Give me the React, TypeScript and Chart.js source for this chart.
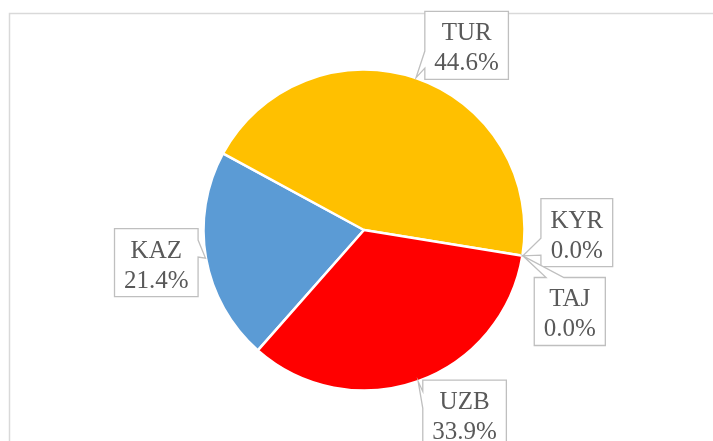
import React, { useEffect, useRef } from "react";
import { Chart, registerables } from "chart.js";

Chart.register(...registerables);

const categories = ["KAZ", "TUR", "KYR", "TAJ", "UZB"];
const shares = [21.4, 44.6, 0.0, 0.0, 33.9];
const sliceColors = ["#5B9BD5", "#FFC000", "#A5A5A5", "#70AD47", "#FF0000"];

// callout placement: polar angle (deg, clockwise from 12 o'clock) and distance in pie radii
const labelAngles = [261.06, 29.07, 90.68, 111.6, 151.35];
const labelDistances = [1.31, 1.316, 1.326, 1.379, 1.307];

const FONT = '25px "Liberation Serif", "Times New Roman", serif';
const LINE_H = 30;

const calloutPlugin = {
  id: "callouts",
  beforeDraw(chart: any) {
    const ctx = chart.ctx;
    ctx.save();
    ctx.strokeStyle = "#D9D9D9";
    ctx.lineWidth = 1.5;
    ctx.beginPath();
    ctx.moveTo(9.5, chart.height + 2);
    ctx.lineTo(9.5, 13.5);
    ctx.lineTo(chart.width + 2, 13.5);
    ctx.stroke();
    ctx.restore();
  },
  afterDraw(chart: any) {
    const ctx = chart.ctx;
    const meta = chart.getDatasetMeta(0);
    ctx.save();
    ctx.font = FONT;
    meta.data.forEach((arc: any, i: number) => {
      const { x, y, startAngle, endAngle, outerRadius } = arc.getProps(
        ["x", "y", "startAngle", "endAngle", "outerRadius"],
        true
      );
      const mid = (startAngle + endAngle) / 2;
      const tipX = x + Math.cos(mid) * (outerRadius + 0.5);
      const tipY = y + Math.sin(mid) * (outerRadius + 0.5);
      const a = ((labelAngles[i] - 90) * Math.PI) / 180;
      const cx = x + Math.cos(a) * outerRadius * labelDistances[i];
      const cy = y + Math.sin(a) * outerRadius * labelDistances[i];
      const lines = [categories[i], shares[i].toFixed(1) + "%"];
      const tw = Math.max(...lines.map((s) => ctx.measureText(s).width));
      const w = tw + 19;
      const h = 68;
      const l = cx - w / 2;
      const t = cy - h / 2;
      const r = l + w;
      const b = t + h;
      const dxPos = tipX - cx;
      const dyPos = tipY - cy;
      const dq = (dxPos * h) / w;
      const dz = Math.abs(dyPos) - Math.abs(dq);
      const xg1 = dxPos > 0 ? 7 : 2;
      const xg2 = dxPos > 0 ? 10 : 5;
      const yg1 = dyPos > 0 ? 7 : 2;
      const yg2 = dyPos > 0 ? 10 : 5;
      const x1 = l + (w * xg1) / 12;
      const x2 = l + (w * xg2) / 12;
      const y1 = t + (h * yg1) / 12;
      const y2 = t + (h * yg2) / 12;
      const side = dz > 0 ? (dyPos < 0 ? "top" : "bottom") : dxPos < 0 ? "left" : "right";

      ctx.beginPath();
      ctx.moveTo(l, t);
      if (side === "top") {
        ctx.lineTo(x1, t);
        ctx.lineTo(tipX, tipY);
        ctx.lineTo(x2, t);
      }
      ctx.lineTo(r, t);
      if (side === "right") {
        ctx.lineTo(r, y1);
        ctx.lineTo(tipX, tipY);
        ctx.lineTo(r, y2);
      }
      ctx.lineTo(r, b);
      if (side === "bottom") {
        ctx.lineTo(x2, b);
        ctx.lineTo(tipX, tipY);
        ctx.lineTo(x1, b);
      }
      ctx.lineTo(l, b);
      if (side === "left") {
        ctx.lineTo(l, y2);
        ctx.lineTo(tipX, tipY);
        ctx.lineTo(l, y1);
      }
      ctx.closePath();
      ctx.fillStyle = "#FFFFFF";
      ctx.fill();
      ctx.strokeStyle = "#BFBFBF";
      ctx.lineWidth = 1.3;
      ctx.lineJoin = "miter";
      ctx.stroke();

      ctx.fillStyle = "#595959";
      ctx.textAlign = "center";
      ctx.textBaseline = "alphabetic";
      lines.forEach((s, k) => {
        ctx.fillText(s, cx, cy + (k - 0.5) * LINE_H + 10);
      });
    });
    ctx.restore();
  },
};

export default function App() {
  const ref = useRef<HTMLCanvasElement | null>(null);
  useEffect(() => {
    if (!ref.current) return;
    const chart = new Chart(ref.current, {
      type: "pie",
      data: {
        labels: categories,
        datasets: [
          {
            data: shares,
            backgroundColor: sliceColors,
            borderColor: "#FFFFFF",
            borderWidth: 2.5,
            hoverOffset: 0,
            radius: 160.5,
          } as any,
        ],
      },
      options: {
        responsive: false,
        animation: false,
        rotation: 221.4,
        layout: { padding: { left: 190, right: 175, top: 60, bottom: 41 } },
        plugins: {
          legend: { display: false },
          tooltip: { enabled: false },
        },
        events: [],
      },
      plugins: [calloutPlugin],
    });
    return () => chart.destroy();
  }, []);
  return (
    <div style={{ position: "absolute", left: 0, top: 0, width: 713, height: 441, background: "#fff" }}>
      <canvas ref={ref} width={713} height={441} style={{ display: "block" }} />
    </div>
  );
}
